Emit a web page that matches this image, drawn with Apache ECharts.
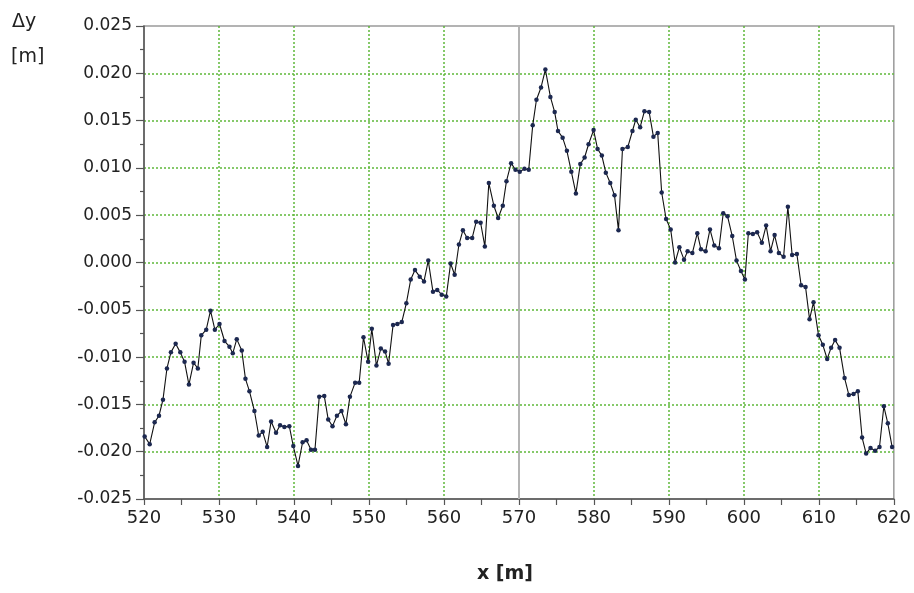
<!DOCTYPE html>
<html>
<head>
<meta charset="utf-8">
<script src="https://cdn.jsdelivr.net/npm/echarts@6/dist/echarts.min.js"></script>
<style>html,body{margin:0;padding:0;background:#fff}#c{width:914px;height:593px}</style>
</head>
<body>
<div id="c"></div>
<script>
// ---- data ----
var xs = [520.09,520.76,521.42,522.00,522.53,523.06,523.59,524.22,524.84,525.41,525.99,526.61,527.18,527.64,528.30,528.87,529.45,530.07,530.74,531.40,531.84,532.37,533.04,533.53,534.06,534.73,535.30,535.83,536.42,536.95,537.61,538.15,538.72,539.38,539.91,540.54,541.15,541.68,542.27,542.80,543.37,544.04,544.57,545.14,545.73,546.34,546.93,547.46,548.16,548.70,549.27,549.89,550.38,551.00,551.58,552.15,552.62,553.22,553.79,554.38,554.99,555.57,556.14,556.77,557.34,557.91,558.54,559.11,559.70,560.31,560.89,561.43,562.00,562.53,563.10,563.77,564.30,564.89,565.46,565.99,566.66,567.23,567.85,568.34,568.96,569.54,570.11,570.74,571.31,571.84,572.34,572.95,573.53,574.20,574.77,575.21,575.83,576.40,576.99,577.60,578.19,578.76,579.29,579.96,580.49,581.06,581.59,582.18,582.75,583.28,583.81,584.52,585.14,585.58,586.17,586.74,587.37,587.94,588.51,589.04,589.63,590.24,590.83,591.40,592.02,592.50,593.13,593.79,594.28,594.90,595.48,596.05,596.68,597.25,597.82,598.45,599.02,599.61,600.14,600.60,601.20,601.77,602.40,602.97,603.56,604.10,604.67,605.30,605.87,606.44,607.07,607.64,608.23,608.76,609.29,609.96,610.53,611.11,611.64,612.17,612.76,613.43,614.00,614.63,615.20,615.77,616.31,616.89,617.51,618.09,618.67,619.20,619.77];
var dys = [-0.0184,-0.0192,-0.0169,-0.0162,-0.0145,-0.0112,-0.0095,-0.0086,-0.0095,-0.0105,-0.0129,-0.0106,-0.0112,-0.0077,-0.0071,-0.0051,-0.0071,-0.0065,-0.0083,-0.0089,-0.0096,-0.0081,-0.0093,-0.0123,-0.0136,-0.0157,-0.0183,-0.0179,-0.0195,-0.0168,-0.0180,-0.0172,-0.0174,-0.0173,-0.0194,-0.0215,-0.0190,-0.0188,-0.0198,-0.0198,-0.0142,-0.0141,-0.0166,-0.0173,-0.0162,-0.0157,-0.0171,-0.0142,-0.0127,-0.0127,-0.0079,-0.0105,-0.0070,-0.0109,-0.0091,-0.0094,-0.0107,-0.0066,-0.0065,-0.0063,-0.0043,-0.0018,-0.0008,-0.0015,-0.0020,0.0002,-0.0031,-0.0029,-0.0034,-0.0036,-0.0001,-0.0013,0.0019,0.0034,0.0026,0.0026,0.0043,0.0042,0.0017,0.0084,0.0060,0.0047,0.0060,0.0086,0.0105,0.0098,0.0096,0.0099,0.0098,0.0145,0.0172,0.0185,0.0204,0.0175,0.0159,0.0139,0.0132,0.0118,0.0096,0.0073,0.0104,0.0111,0.0125,0.0140,0.0120,0.0113,0.0095,0.0084,0.0071,0.0034,0.0120,0.0122,0.0139,0.0151,0.0143,0.0160,0.0159,0.0133,0.0137,0.0074,0.0046,0.0035,0.0000,0.0016,0.0003,0.0012,0.0010,0.0031,0.0014,0.0012,0.0035,0.0018,0.0015,0.0052,0.0049,0.0028,0.0002,-0.0009,-0.0018,0.0031,0.0030,0.0032,0.0021,0.0039,0.0012,0.0029,0.0010,0.0006,0.0059,0.0008,0.0009,-0.0024,-0.0026,-0.0060,-0.0042,-0.0077,-0.0087,-0.0102,-0.0090,-0.0082,-0.0090,-0.0122,-0.0140,-0.0139,-0.0136,-0.0185,-0.0202,-0.0196,-0.0199,-0.0195,-0.0152,-0.0170,-0.0195];
var xTicks = [520,530,540,550,560,570,580,590,600,610,620];
var yTicks = [-0.025,-0.020,-0.015,-0.010,-0.005,0.000,0.005,0.010,0.015,0.020,0.025];
var refLineX = [570];

var points = xs.map(function (x, i) { return [x, dys[i]]; });
var chart = echarts.init(document.getElementById('c'));
var green = '#5fb83a';
var txt = '#222';
chart.setOption({
  animation: false,
  backgroundColor: '#fff',
  grid: { left: 144, right: 18, top: 26, bottom: 94, show: true, borderColor: '#9a9a9a', borderWidth: 1.5 },
  graphic: [
    { type: 'text', left: 12, top: 13, style: { text: 'Δy', font: '19px "DejaVu Sans"', fill: txt } },
    { type: 'text', left: 11, top: 48, style: { text: '[m]', font: '19px "DejaVu Sans"', fill: txt } },
    { type: 'text', x: 505, y: 574, style: { text: 'x [m]', font: 'bold 19px "DejaVu Sans"', fill: txt, align: 'center', verticalAlign: 'middle' } }
  ],
  xAxis: {
    type: 'value', min: xTicks[0], max: xTicks[xTicks.length - 1], interval: 10,
    axisLine: { show: true, onZero: false, lineStyle: { color: '#555', width: 1.5 } },
    axisTick: { show: true, inside: false, length: 6, lineStyle: { color: '#555', width: 1.2 } },
    minorTick: { show: true, splitNumber: 2, length: 6, lineStyle: { color: '#555', width: 1.2 } },
    axisLabel: { margin: 10, color: txt, fontSize: 18, fontFamily: 'DejaVu Sans' },
    splitLine: { show: true, showMinLine: false, showMaxLine: false, lineStyle: { color: green, type: [2, 2], width: 1.5 } }
  },
  yAxis: {
    type: 'value', min: yTicks[0], max: yTicks[yTicks.length - 1], interval: 0.005,
    axisLine: { show: true, onZero: false, lineStyle: { color: '#555', width: 1.5 } },
    axisTick: { show: true, inside: false, length: 8, lineStyle: { color: '#555', width: 1.2 } },
    minorTick: { show: true, splitNumber: 2, length: 4, lineStyle: { color: '#555', width: 1.2 } },
    axisLabel: { margin: 12, color: txt, fontSize: 17, fontFamily: 'DejaVu Sans',
      formatter: function (v) { return (Math.abs(v) < 1e-9 ? 0 : v).toFixed(3); } },
    splitLine: { show: true, showMinLine: false, showMaxLine: false, lineStyle: { color: green, type: [2, 2], width: 1.5 } }
  },
  series: [{
    type: 'line',
    data: points,
    symbol: 'circle', symbolSize: 4.5,
    itemStyle: { color: '#1c2850' },
    lineStyle: { color: '#111', width: 1.1 },
    markLine: {
      silent: true, symbol: 'none', label: { show: false },
      lineStyle: { color: '#b4b4b4', width: 2, type: 'solid' },
      data: refLineX.map(function (v) { return { xAxis: v }; }),
      z: 1
    },
    z: 3
  }]
});
</script>
</body>
</html>
